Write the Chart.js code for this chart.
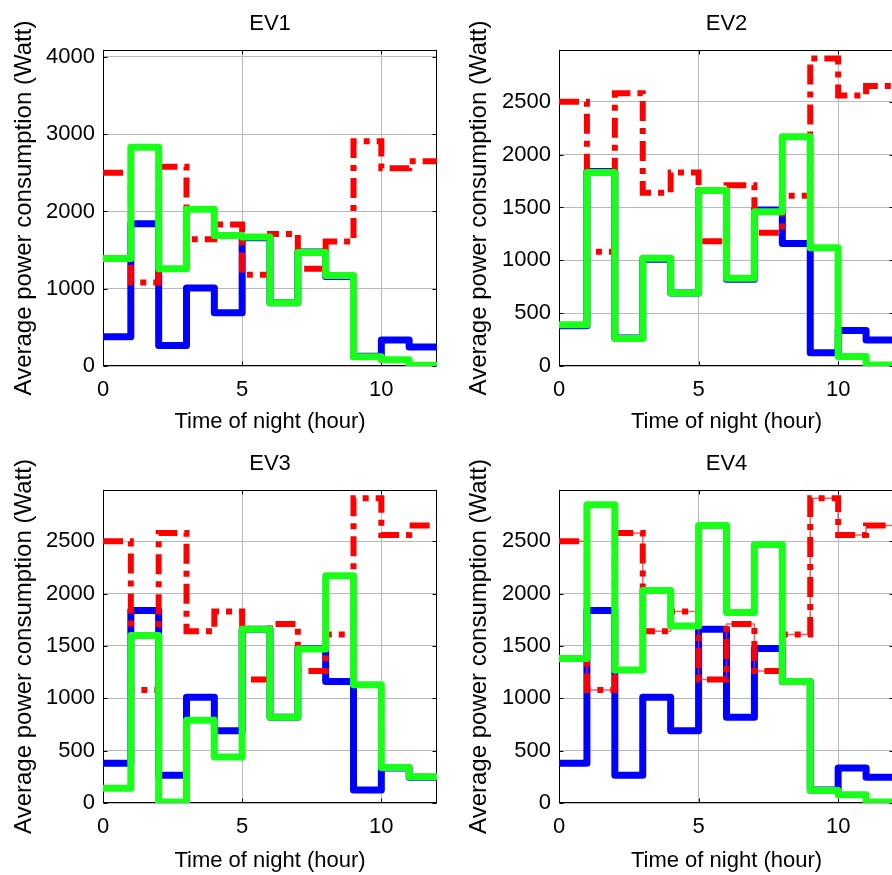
<!DOCTYPE html>
<html>
<head>
<meta charset="utf-8">
<title>EV power consumption</title>
<script src="https://cdn.jsdelivr.net/npm/chart.js@4.4.1/dist/chart.umd.min.js"></script>
<style>
    html, body { margin: 0; padding: 0; background: #fff; width: 892px; height: 875px; overflow: hidden; }
    canvas { position: absolute; }
</style>
</head>
<body>
<canvas id="ev1" width="446" height="440" style="left:0;top:0"></canvas>
<canvas id="ev2" width="457" height="440" style="left:446px;top:0"></canvas>
<canvas id="ev3" width="446" height="435" style="left:0;top:440px"></canvas>
<canvas id="ev4" width="457" height="435" style="left:446px;top:440px"></canvas>
<script>
"use strict";

// hourly values, each one holds for the hour that starts at hours[i]
const hours = [0, 1, 2, 3, 4, 5, 6, 7, 8, 9, 10, 11, 12];
const priceProfile = [2500, 1080, 2580, 1640, 1830, 1180, 1710, 1260, 1610, 2910, 2560, 2650];
const baseLoad = [380, 1840, 265, 1010, 690, 1660, 820, 1475, 1160, 125, 335, 245];
const ev1Load = [1390, 2830, 1260, 2030, 1690, 1670, 820, 1470, 1170, 120, 80, 10];
const ev2Load = [390, 1830, 260, 1020, 690, 1660, 830, 1460, 2170, 1120, 90, 10];
const ev3Load = [140, 1600, 10, 790, 440, 1660, 820, 1470, 2170, 1130, 340, 250];
const ev4Load = [1380, 2850, 1270, 2030, 1690, 2650, 1820, 2470, 1160, 120, 80, 10];

const panelTitles = ["EV1", "EV2", "EV3", "EV4"];
const panelLoads = [ev1Load, ev2Load, ev3Load, ev4Load];
const yLimits = [4090, 2990, 2990, 2990];
const xTickValues = [0, 5, 10];
const ev1TickValues = [0, 1000, 2000, 3000, 4000];
const evTickValues = [0, 500, 1000, 1500, 2000, 2500];
const panelTicks = [ev1TickValues, evTickValues, evTickValues, evTickValues];

const kFamily = "'Liberation Sans', Arial, Helvetica, sans-serif";

const kLayouts = [
    { id: "ev1", yWidth: 103, xHeight: 74, yTitlePad: 10, xTitlePad: 5 },
    { id: "ev2", yWidth: 113, xHeight: 74, yTitlePad: 19, xTitlePad: 5 },
    { id: "ev3", yWidth: 103, xHeight: 72, yTitlePad: 10, xTitlePad: 1 },
    { id: "ev4", yWidth: 113, xHeight: 72, yTitlePad: 19, xTitlePad: 1 }
];

function toSteps(values) {
    return hours.map((hour, i) => ({ x: hour, y: values[Math.min(i, values.length - 1)] }));
}

function fixedTicks(values) {
    return (scale) => {
        scale.ticks = values.map((value) => ({ value }));
    };
}

// matlab style box with inward tick marks
const boxPlugin = {
    id: "box",
    beforeDatasetsDraw(chart) {
        const { ctx, chartArea: { left, right, top, bottom }, scales } = chart;
        const l = Math.round(left) + 0.5;
        const r = Math.round(right) - 0.5;
        const t = Math.round(top) + 0.5;
        const b = Math.round(bottom) - 0.5;
        ctx.save();
        ctx.strokeStyle = "#000";
        ctx.lineWidth = 1;
        ctx.strokeRect(l, t, r - l, b - t);
        ctx.beginPath();
        for (const tick of scales.x.ticks) {
            const px = Math.round(scales.x.getPixelForValue(tick.value)) + 0.5;
            ctx.moveTo(px, b); ctx.lineTo(px, b - 4);
            ctx.moveTo(px, t); ctx.lineTo(px, t + 4);
        }
        for (const tick of scales.y.ticks) {
            const py = Math.round(scales.y.getPixelForValue(tick.value)) + 0.5;
            ctx.moveTo(l, py); ctx.lineTo(l + 4, py);
            ctx.moveTo(r, py); ctx.lineTo(r - 4, py);
        }
        ctx.stroke();
        ctx.restore();
    }
};

function createPanel(index) {
    const layout = kLayouts[index];
    const lineBase = { stepped: "before", pointRadius: 0, fill: false, tension: 0, borderJoinStyle: "round" };
    const datasets = [
        { ...lineBase, data: toSteps(panelLoads[index]), borderColor: "#19ff19", borderWidth: 7 },
        { ...lineBase, data: toSteps(priceProfile), borderColor: "#ff0000", borderWidth: 6, borderDash: [20, 7, 6, 7], borderJoinStyle: "miter" },
        { ...lineBase, data: toSteps(baseLoad), borderColor: "#0000ff", borderWidth: 7 }
    ];
    if (index === 3) {
        // thin solid price line under the dashes on the last panel
        datasets.splice(2, 0, { ...lineBase, data: toSteps(priceProfile), borderColor: "rgba(255,40,40,0.75)", borderWidth: 1.5 });
    }

    const tickFont = { family: kFamily, size: 22 };

    new Chart(document.getElementById(layout.id), {
        type: "line",
        data: { datasets },
        plugins: [boxPlugin],
        options: {
            responsive: false,
            animation: false,
            devicePixelRatio: 1,
            events: [],
            layout: { padding: { left: 0, right: 9, top: 0, bottom: 0 } },
            plugins: {
                legend: { display: false },
                tooltip: { enabled: false },
                title: {
                    display: true,
                    fullSize: false,
                    text: panelTitles[index],
                    color: "#000",
                    font: { family: kFamily, size: 22, weight: "normal" },
                    padding: { top: 11, bottom: 12.6 }
                }
            },
            scales: {
                x: {
                    type: "linear",
                    min: 0,
                    max: 12,
                    afterBuildTicks: fixedTicks(xTickValues),
                    afterFit: (scale) => { scale.height = layout.xHeight; },
                    ticks: { color: "#000", padding: 11, maxRotation: 0, font: tickFont, callback: (v) => String(v) },
                    grid: { color: "#b8b8b8", lineWidth: 1, drawTicks: false },
                    border: { display: false },
                    title: {
                        display: true,
                        text: "Time of night (hour)",
                        color: "#000",
                        font: { family: kFamily, size: 22 },
                        padding: { top: 0, bottom: layout.xTitlePad }
                    }
                },
                y: {
                    type: "linear",
                    min: 0,
                    max: yLimits[index],
                    afterBuildTicks: fixedTicks(panelTicks[index]),
                    afterFit: (scale) => { scale.width = layout.yWidth; },
                    ticks: { color: "#000", padding: 8, font: tickFont, callback: (v) => String(v) },
                    grid: { color: "#b8b8b8", lineWidth: 1, drawTicks: false },
                    border: { display: false },
                    title: {
                        display: true,
                        text: "Average power consumption (Watt)",
                        color: "#000",
                        font: { family: kFamily, size: 24 },
                        padding: { top: layout.yTitlePad, bottom: 0 }
                    }
                }
            }
        }
    });
}

document.addEventListener("DOMContentLoaded", () => {
    for (let i = 0; i < kLayouts.length; i++) {
        createPanel(i);
    }
});
</script>
</body>
</html>
